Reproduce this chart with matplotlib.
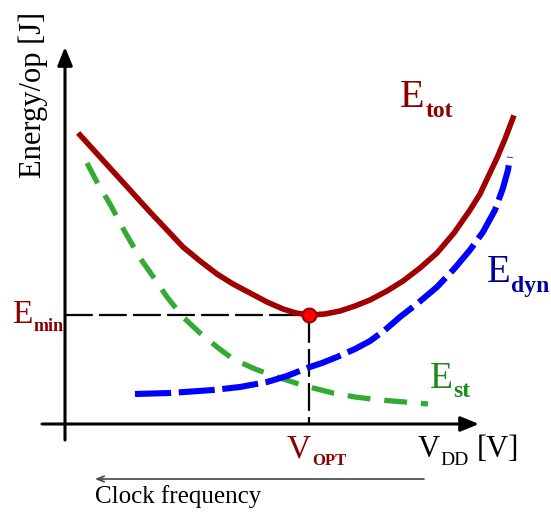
import matplotlib
matplotlib.use("Agg")
import matplotlib.pyplot as plt

plt.rcParams["font.family"] = ["Liberation Serif", "DejaVu Serif"]
plt.rcParams["lines.scale_dashes"] = False

# supply voltage (arbitrary units, origin at the axis crossing) and energy/op
vdd_tot = [15, 35, 55, 85, 102, 118, 135, 152, 168, 185, 202, 218, 231, 244, 260,
           275, 290, 305, 322, 338, 355, 372, 389, 405, 415, 423, 432, 440, 448]
e_tot = [289, 267, 245, 212, 194, 177, 163, 150, 140, 131, 122, 115, 111, 109, 110,
         113, 118, 124, 133, 143, 156, 171, 191, 214, 230, 247, 266, 285, 306]

vdd_dyn = [70, 105, 148, 175, 202, 222, 242, 257, 272, 290, 305, 320, 335, 353,
           372, 389, 405, 418, 430, 438, 443, 445]
e_dyn = [30, 31, 34, 37, 42, 48, 56, 61, 67, 75, 83, 94, 107, 121,
         137, 155, 174, 192, 214, 236, 254, 267]

vdd_st = [22, 33, 45, 60, 75, 87, 102, 118, 135, 152, 168, 190, 212, 240, 268,
          290, 315, 340, 363]
e_st = [261, 240, 220, 192, 166, 149, 127, 107, 91, 77, 65, 55, 47, 38, 31,
        27, 24, 22, 20]

v_opt = 244
e_min = 109

fig = plt.figure(figsize=(5.51, 5.14), dpi=100)
ax = fig.add_axes([0, 0, 1, 1])
ax.set_xlim(-65, 486)
ax.set_ylim(-90, 424)
ax.axis("off")

# axes with arrows
arrow = dict(arrowstyle="-|>,head_length=1.1,head_width=0.45", lw=2.2, color="black",
             shrinkA=0, shrinkB=0)
ax.annotate("", xy=(0, 377), xytext=(0, -16), arrowprops=arrow)
ax.annotate("", xy=(414, 0), xytext=(-23, 0), arrowprops=arrow)

# guide lines to the optimum
ax.plot([0, v_opt], [e_min, e_min], color="black", lw=1.6, dashes=(20, 4.5))
ax.plot([v_opt, v_opt], [e_min, 0], color="black", lw=1.6, dashes=(20, 4.5))

# energy curves
ax.plot(vdd_st, e_st, color="#33aa33", lw=3.8, dashes=(16.5, 10))
ax.plot(vdd_dyn, e_dyn, color="#0000ff", lw=4.4, dashes=(26, 5.5))
ax.plot(vdd_tot, e_tot, color="#a00000", lw=4.0, solid_joinstyle="round")
ax.plot([v_opt], [e_min], "o", ms=10, mfc="#ff0000", mec="#a00000", mew=1.5, zorder=5)


def label(x, y, main, sub, color, size, subsize, weight="bold"):
    t = ax.text(x, y, main, color=color, fontsize=size, va="baseline")
    ax.annotate(sub, xy=(1, 0), xycoords=t, xytext=(0.5, -0.5),
                textcoords="offset points", color=color, fontsize=subsize,
                fontweight=weight, va="baseline")


ax.text(-32, 329, "Energy/op [J]", rotation=90, ha="center", va="center", fontsize=22)
label(335, 317, "E", "tot", "#8b0000", 29, 17)
label(422, 142, "E", "dyn", "#0000a0", 28, 17)
label(365, 36, "E", "st", "#1a8c1a", 27, 17)
label(-53, 101, "E", "min", "#8b0000", 24, 13)
label(222, -33, "V", "OPT", "#8b0000", 24, 12)
label(353, -33, "V", "DD", "black", 22, 14, weight="normal")
ax.text(412, -33, "[V]", fontsize=22, va="baseline")

# clock frequency direction
ax.annotate("", xy=(30, -55), xytext=(359, -55),
            arrowprops=dict(arrowstyle="->,head_length=0.5,head_width=0.2", lw=1.2,
                            color="#444444", shrinkA=0, shrinkB=0))
ax.text(30, -79, "Clock frequency", fontsize=18, va="baseline")

fig.savefig("out.png", dpi=100)
